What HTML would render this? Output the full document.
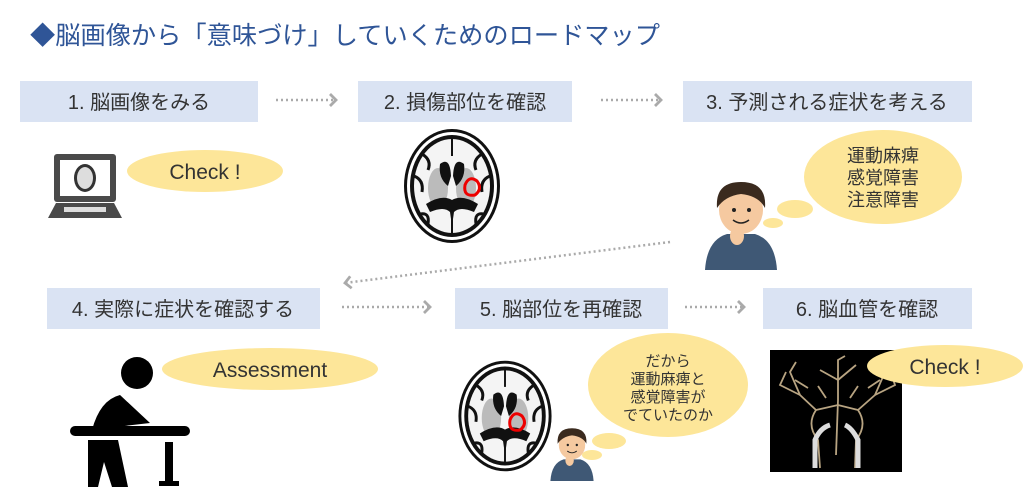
<!DOCTYPE html>
<html><head><meta charset="utf-8"><style>
body{margin:0;width:1024px;height:502px;background:#fff;overflow:hidden}
svg{display:block}
text{font-family:"Liberation Sans","Noto Sans CJK JP",sans-serif}
</style></head><body>
<svg width="1024" height="502" viewBox="0 0 1024 502">
<defs>
<marker id="ah" markerWidth="10" markerHeight="14" refX="7" refY="7" orient="auto" markerUnits="userSpaceOnUse">
<path d="M1,1 L7,7 L1,13" fill="none" stroke="#aaa" stroke-width="2.8"/></marker>
<g id="brain">
<ellipse cx="0" cy="0" rx="48" ry="57" fill="#111"/>
<ellipse cx="0" cy="0" rx="45" ry="54" fill="#fff"/>
<ellipse cx="0" cy="0" rx="42" ry="51" fill="#111"/>
<ellipse cx="0" cy="0" rx="38" ry="47" fill="#f4f4f4"/>
<path d="M-38,-10 Q-28,-6 -30,6 M38,-10 Q28,-6 30,6 M-30,-32 Q-20,-26 -24,-16 M30,-32 Q20,-26 24,-16 M-32,28 Q-22,26 -24,38 M32,28 Q22,26 24,38" stroke="#111" stroke-width="3" fill="none"/>
<ellipse cx="-14" cy="2" rx="10" ry="20" fill="#bbb"/>
<ellipse cx="14" cy="2" rx="10" ry="20" fill="#bbb"/>
<path d="M-12,-22 Q-2,-30 -1,-10 L-4,0 Q-14,-8 -12,-22Z M12,-22 Q2,-30 1,-10 L4,0 Q14,-8 12,-22Z" fill="#111"/>
<path d="M-26,18 Q-10,8 0,14 Q10,8 26,18 L22,26 Q8,20 2,26 L0,40 L-2,26 Q-8,20 -22,26Z" fill="#111"/>
<line x1="0" y1="-48" x2="0" y2="-30" stroke="#111" stroke-width="2"/>
<line x1="0" y1="30" x2="0" y2="50" stroke="#111" stroke-width="2"/>
</g>
<g id="man">
<path d="M-36,60 Q-34,30 -14,24 L14,24 Q34,30 36,60Z" fill="#3f5875"/>
<ellipse cx="0" cy="0" rx="22" ry="24" fill="#f5c9a0"/>
<path d="M-24,-2 Q-26,-28 0,-28 Q26,-28 24,-2 Q18,-14 0,-16 Q-16,-14 -24,-2Z" fill="#3a2a1e"/>
<circle cx="-7" cy="0" r="2" fill="#222"/><circle cx="8" cy="0" r="2" fill="#222"/>
<path d="M-8,10 Q0,16 8,10" stroke="#222" fill="none" stroke-width="1.5"/>
<ellipse cx="-4" cy="26" rx="7" ry="9" fill="#f5c9a0"/>
</g>
</defs>

<text x="30" y="44" font-size="25" fill="#2f5597" textLength="630" lengthAdjust="spacingAndGlyphs">◆脳画像から「意味づけ」していくためのロードマップ</text>

<g fill="#dae3f3">
<rect x="20" y="81" width="238" height="41"/>
<rect x="358" y="81" width="214" height="41"/>
<rect x="683" y="81" width="289" height="41"/>
<rect x="47" y="288" width="273" height="41"/>
<rect x="455" y="288" width="213" height="41"/>
<rect x="763" y="288" width="209" height="41"/>
</g>
<g font-size="20" fill="#333" text-anchor="middle">
<text x="139" y="109">1. 脳画像をみる</text>
<text x="465" y="109">2. 損傷部位を確認</text>
<text x="827" y="109">3. 予測される症状を考える</text>
<text x="183" y="316">4. 実際に症状を確認する</text>
<text x="561" y="316">5. 脳部位を再確認</text>
<text x="867" y="316">6. 脳血管を確認</text>
</g>
<g stroke="#aaa" stroke-width="2.5" stroke-dasharray="2 3" fill="none">
<line x1="276" y1="100" x2="336" y2="100" marker-end="url(#ah)"/>
<line x1="601" y1="100" x2="661" y2="100" marker-end="url(#ah)"/>
<line x1="342" y1="307" x2="430" y2="307" marker-end="url(#ah)"/>
<line x1="685" y1="307" x2="744" y2="307" marker-end="url(#ah)"/>
<line x1="670" y1="242" x2="345" y2="283" marker-end="url(#ah)"/>
</g>

<!-- laptop -->
<rect x="54" y="154" width="62" height="48" rx="3" fill="#4a4a4a"/>
<rect x="60" y="160" width="50" height="36" fill="#fff"/>
<ellipse cx="85" cy="178" rx="11" ry="14" fill="#333"/>
<ellipse cx="85" cy="178" rx="8" ry="11" fill="#ddd"/>
<path d="M48,218 L56,203 L114,203 L122,218Z" fill="#4a4a4a"/>
<rect x="64" y="207" width="42" height="5" fill="#ddd"/>
<ellipse cx="205" cy="171" rx="78" ry="21" fill="#fde699"/>
<text x="205" y="179" font-size="21" fill="#333" text-anchor="middle">Check !</text>

<use href="#brain" transform="translate(452,186)"/>
<path d="M465,185 q4,-10 12,-4 q6,8 -2,14 q-12,2 -10,-10z" fill="none" stroke="#e00" stroke-width="3"/>

<use href="#man" transform="translate(741,210)"/>
<ellipse cx="773" cy="223" rx="10" ry="5" fill="#fde699"/>
<ellipse cx="795" cy="209" rx="18" ry="9" fill="#fde699"/>
<ellipse cx="883" cy="177" rx="79" ry="47" fill="#fde699"/>
<g font-size="18" fill="#333" text-anchor="middle">
<text x="883" y="162">運動麻痺</text><text x="883" y="184">感覚障害</text><text x="883" y="206">注意障害</text>
</g>

<!-- assessment person -->
<circle cx="137" cy="373" r="16" fill="#000"/>
<path d="M92,430 Q100,400 120,395 L150,423 L90,430Z" fill="#000"/>
<rect x="70" y="426" width="120" height="10" rx="5" fill="#000"/>
<path d="M88,440 L118,440 L128,487 L112,487 L104,462 L98,487 L88,487Z" fill="#000"/>
<rect x="165" y="442" width="8" height="40" fill="#000"/>
<rect x="159" y="481" width="20" height="5" fill="#000"/>
<ellipse cx="270" cy="369" rx="108" ry="21" fill="#fde699"/>
<text x="270" y="377" font-size="21" fill="#333" text-anchor="middle">Assessment</text>

<use href="#brain" transform="translate(505,416) scale(0.97)"/>
<path d="M510,420 q4,-10 12,-4 q6,8 -2,14 q-12,2 -10,-10z" fill="none" stroke="#e00" stroke-width="3"/>
<use href="#man" transform="translate(572,445) scale(0.6)"/>
<ellipse cx="592" cy="455" rx="10" ry="5" fill="#fde699"/>
<ellipse cx="609" cy="441" rx="17" ry="8" fill="#fde699"/>
<ellipse cx="668" cy="385" rx="80" ry="52" fill="#fde699"/>
<g font-size="15" fill="#333" text-anchor="middle">
<text x="668" y="366">だから</text><text x="668" y="384">運動麻痺と</text><text x="668" y="402">感覚障害が</text><text x="668" y="420">でていたのか</text>
</g>

<!-- angiogram -->
<rect x="770" y="350" width="132" height="122" fill="#000"/>
<g stroke="#b8a482" fill="none" stroke-width="1.8">
<path d="M820,468 L818,440 Q806,425 816,410 L800,395 L790,372 L796,362"/>
<path d="M855,468 L856,440 Q868,425 858,410 L875,395 L885,372 L880,362"/>
<path d="M836,455 L838,400 L838,360 L845,356"/>
<path d="M816,410 L838,405 L858,410"/>
<path d="M800,395 L780,385 L786,372 M875,395 L895,385 L890,370 M838,380 L820,370 M838,380 L856,365 M795,380 L808,388 M880,380 L868,388 M826,398 L818,386 M850,398 L858,386"/>
</g>
<g stroke="#ddd" stroke-width="5" fill="none">
<path d="M815,468 L815,440 Q820,428 830,425"/><path d="M858,468 L858,440 Q852,428 845,425"/>
</g>
<ellipse cx="945" cy="366" rx="78" ry="21" fill="#fde699"/>
<text x="945" y="374" font-size="21" fill="#333" text-anchor="middle">Check !</text>
</svg>
</body></html>
